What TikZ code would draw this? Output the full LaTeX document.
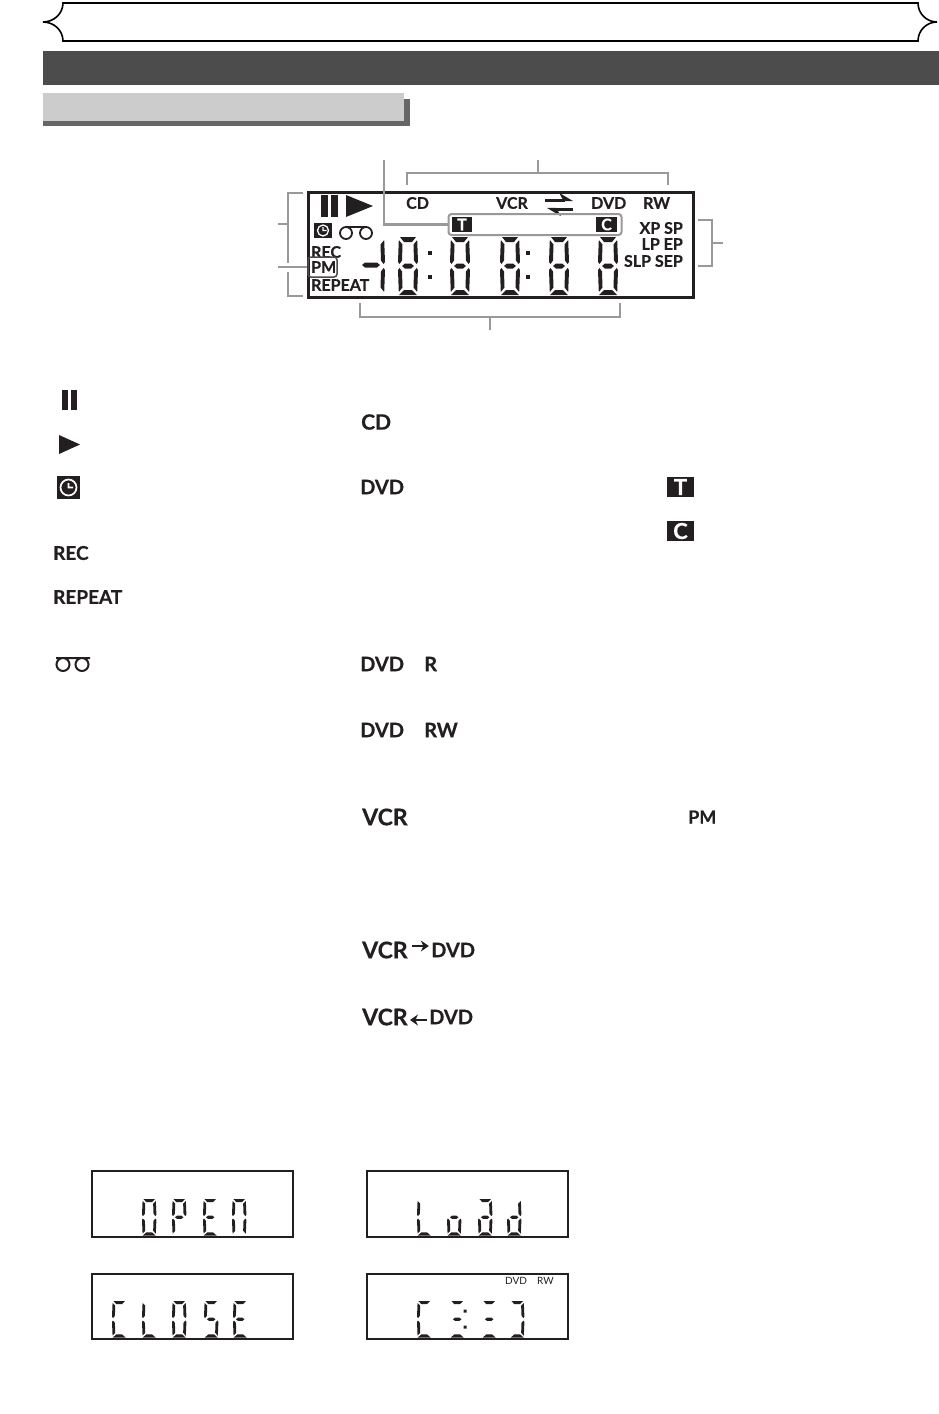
\documentclass[tikz,border=0pt]{standalone}
\usepackage{fontspec}
\setmainfont{Lato}[BoldFeatures={FakeBold=0.5}]
\usetikzlibrary{arrows.meta,positioning}
\definecolor{ink}{RGB}{35,31,32}
\definecolor{leader}{RGB}{153,153,153}
\tikzset{
  sega/.pic={\fill (2,0)--(18,0)--(14,5)--(6,5)--cycle;},
  segb/.pic={\fill (19.2,3)--(15.5,7.5)--(16,23.5)--(18.5,27)--(20,25)--cycle;},
  segc/.pic={\fill (20,33)--(18.5,31)--(16,34.5)--(15.5,50.5)--(19.2,55)--cycle;},
  segd/.pic={\fill (1,58)--(19,58)--(14,53)--(6,53)--cycle;},
  sege/.pic={\fill (0,33)--(1.5,31)--(4,34.5)--(4.5,50.5)--(0.8,55)--cycle;},
  segf/.pic={\fill (0.8,3)--(4.5,7.5)--(4,23.5)--(1.5,27)--(0,25)--cycle;},
  segg/.pic={\fill (4,29)--(7,26.5)--(13,26.5)--(16,29)--(13,31.5)--(7,31.5)--cycle;},
}
\newcommand{\lcddigit}[4]{%
  \begin{scope}[shift={(#2,#3)},scale=#1]
    \foreach \s in {#4} {\pic[ink,transform shape] at (0,0) {seg\s};}
  \end{scope}}
\newcommand{\smalldigit}[3]{%
  \begin{scope}[shift={(#1,#2)},xscale=0.72,yscale=0.63]
    \foreach \s in {#3} {\pic[ink,transform shape] at (0,0) {seg\s};}
  \end{scope}}

\begin{document}
\begin{tikzpicture}[
    x=1pt, y=-1pt,
    label/.style={font=\bfseries\fontsize{#1}{#1}\selectfont, text=ink, inner sep=0pt, anchor=west},
    label/.default=20,
    lcdbox/.style={draw=ink, line width=#1, fill=white, inner sep=0pt},
    lcdbox/.default=2pt,
    bracket/.style={draw=leader, line width=2.4pt},
    chip/.style={fill=ink, text=white, inner sep=0pt, font=\bfseries\fontsize{16}{16}\selectfont},
    bar/.style={fill=ink, inner sep=0pt},
    swing/.style={-{Stealth[length=8pt,width=11pt]}, line width=2.8pt, ink},
    lcdswing/.style={-{Stealth[harpoon,length=12pt,width=14pt]}, line width=3pt, ink},
  ]
  \useasboundingbox (0,0) rectangle (939,1414);

  % Title band
  \draw[line width=1.6pt, fill=white] (63,3) to[out=270,in=0] (43,22) to[out=0,in=90] (63,41)
    -- (918,41) to[out=90,in=180] (937,22) to[out=180,in=270] (918,3) -- cycle;
  \node[fill=black!70, inner sep=0pt, minimum width=896pt, minimum height=34pt] (band) at (491,68) {};
  \node[fill=black!60, inner sep=0pt, minimum width=367pt, minimum height=27pt] (shadow) at (226.5,112.5) {};
  \node[fill=black!20, inner sep=0pt, minimum width=361pt, minimum height=28pt] (heading) at (223.5,107) {};

  % Display
  \node[lcdbox=3pt, minimum width=385pt, minimum height=105pt] (display) at (500.5,244.5) {};
  \node[bar, minimum width=7pt, minimum height=22pt] (pausea) at (324.5,206) {};
  \node[bar, minimum width=7pt, minimum height=22pt] (pauseb) at (334.5,206) {};
  \fill[ink] (346,195) -- (373,206) -- (346,217) -- cycle;
  \node[bar, minimum width=18pt, minimum height=15pt] (clockchip) at (323,230.5) {};
  \draw[white, line width=1.3pt] (323,230.5) circle (5.5) (323,227) -- (323,230.5) -- (326.5,230.5);
  \draw[ink, line width=1.8pt] (346,233) circle (6) (366,233) circle (6) (346,227) -- (366,227);
  \node[label=16] (rec) at (311,252) {REC};
  \node[label=16] (pm) at (311,267) {PM};
  \node[label=16] (repeat) at (311,285) {REPEAT};
  \node[label=16] (cd) at (406,203) {CD};
  \node[label=16] (vcr) at (496,203) {VCR};
  \node[label=16] (dvd) at (591,203) {DVD};
  \node[label=16] (rw) at (643,203) {RW};
  \draw[lcdswing] (545,200) -- (573,200);
  \draw[lcdswing] (573,209) -- (547,209);
  \node[label=16, anchor=east] (xpsp) at (683,228) {XP SP};
  \node[label=16, anchor=east] (lpep) at (683,244) {LP EP};
  \node[label=16, anchor=east] (slpsep) at (683,261) {SLP SEP};
  \node[chip, minimum width=20pt, minimum height=15pt] (tchip) at (462,224.5) {T};
  \node[chip, minimum width=21pt, minimum height=15pt] (cchip) at (606.5,224.5) {C};
  \node[draw=leader, line width=2pt, rounded corners=3pt, minimum width=173pt, minimum height=21pt] (tcbox) at (535,224.5) {};
  \node[draw=black!70, line width=1.5pt, rounded corners=3pt, minimum width=29pt, minimum height=20pt] (pmbox) at (322.5,267) {};

  % Time digits
  \fill[ink] (362,265) -- (365,262.5) -- (377,262.5) -- (380,265) -- (377,267.5) -- (365,267.5) -- cycle;
  \lcddigit{1}{365}{237}{b,c}
  \lcddigit{1}{398}{237}{a,b,c,d,e,f,g}
  \lcddigit{1}{450}{237}{a,b,c,d,e,f,g}
  \lcddigit{1}{500}{237}{a,b,c,d,e,f,g}
  \lcddigit{1}{549}{237}{a,b,c,d,e,f,g}
  \lcddigit{1}{598}{237}{a,b,c,d,e,f,g}
  \foreach \dotx/\doty in {430/253,430/277,528/253,528/277}
    \fill[ink] (\dotx-2,\doty-2) rectangle (\dotx+2,\doty+2);

  % Brackets and leaders
  \coordinate (cutop) at (538,160);
  \coordinate (tcstem) at (384,160);
  \coordinate (lefta) at (278,224);
  \coordinate (leftb) at (278,267);
  \coordinate (rightstem) at (723,243);
  \coordinate (botstem) at (490,330);
  \draw[bracket] (407,185) -- (407,173) -- (668,173) -- (668,185);
  \draw[bracket] (cutop) -- (538,173);
  \draw[bracket] (tcstem) |- (tcbox.west);
  \draw[bracket] (303,193) -- (288,193) -- (288,263);
  \draw[bracket] (288,272) -- (288,296) -- (303,296);
  \draw[bracket] (lefta) -- (288,224);
  \draw[bracket] (leftb) -- (pmbox.west);
  \draw[bracket] (698,220) -- (712,220) -- (712,266) -- (698,266);
  \draw[bracket] (rightstem) -- (712,243);
  \draw[bracket] (360,303) -- (360,317) -- (620,317) -- (620,303);
  \draw[bracket] (botstem) -- (490,317);

  % Key, left column
  \node[bar, minimum width=6pt, minimum height=20pt] (keypausea) at (65,400) {};
  \node[bar, minimum width=6pt, minimum height=20pt] (keypauseb) at (74,400) {};
  \fill[ink] (59,435) -- (80,444.5) -- (59,454) -- cycle;
  \node[bar, minimum width=23pt, minimum height=23pt] (keyclock) at (68.5,487.5) {};
  \draw[white, line width=1.7pt] (68.5,487.5) circle (8) (68.5,483) -- (68.5,487.5) -- (73,487.5);
  \node[label=19] (keyrec) at (53,553) {REC};
  \node[label=19] (keyrepeat) at (53,597) {REPEAT};
  \draw[ink, line width=2pt] (63,664.5) circle (6.5) (82,664.5) circle (6.5) (56,658) -- (90,658);

  % Key, middle column
  \node[label=21] (keycd) at (361,422) {CD};
  \node[label] (keydvd) at (360,487) {DVD};
  \node[label] (keydvdr) at (360,664) {DVD};
  \node[label] (keyr) at (424,664) {R};
  \node[label] (keydvdrw) at (360,730) {DVD};
  \node[label] (keyrw) at (424,730) {RW};
  \node[label=23] (keyvcr) at (362,817) {VCR};
  \node[label=23] (copyvcra) at (362,950) {VCR};
  \node[label=20] (copydvda) at (431,950) {DVD};
  \draw[swing] (copyvcra.east) ++(4,-4) -- ++(17,0);
  \node[label=23] (copyvcrb) at (362,1017) {VCR};
  \node[label=20] (copydvdb) at (429,1017) {DVD};
  \draw[swing] (copydvdb.west) ++(-2,3) -- ++(-17,0);

  % Key, right column
  \node[chip, minimum width=27pt, minimum height=20pt, font=\bfseries\fontsize{22}{22}\selectfont] (keyt) at (680.5,487) {T};
  \node[chip, minimum width=27pt, minimum height=20pt, font=\bfseries\fontsize{22}{22}\selectfont] (keyc) at (680.5,531) {C};
  \node[label=18] (keypm) at (688,817) {PM};

  % Messages
  \node[lcdbox, minimum width=201pt, minimum height=66pt] (openbox) at (192.5,1204) {};
  \node[lcdbox, minimum width=201pt, minimum height=66pt] (loadbox) at (467.5,1204) {};
  \node[lcdbox, minimum width=201pt, minimum height=65pt] (closebox) at (192.5,1306.5) {};
  \node[lcdbox, minimum width=201pt, minimum height=65pt] (formatbox) at (467.5,1306.5) {};
  \smalldigit{142}{1199}{a,b,c,d,e,f}
  \smalldigit{172}{1199}{a,b,e,f,g}
  \smalldigit{203}{1199}{a,d,e,f,g}
  \smalldigit{232}{1199}{a,b,c,e,f}
  \smalldigit{417}{1199}{d,e,f}
  \smalldigit{447}{1199}{c,d,e,g}
  \smalldigit{478}{1199}{a,b,c,d,e,g}
  \smalldigit{507}{1199}{b,c,d,e,g}
  \smalldigit{112}{1301}{a,d,e,f}
  \smalldigit{142}{1301}{d,e,f}
  \smalldigit{172}{1301}{a,b,c,d,e,f}
  \smalldigit{204}{1301}{a,c,d,f,g}
  \smalldigit{233}{1301}{a,d,e,f,g}
  \smalldigit{417}{1301}{a,d,e,f}
  \smalldigit{450}{1301}{a,d,g}
  \smalldigit{482}{1301}{a,d,g}
  \smalldigit{510}{1301}{a,b,c,d}
  \fill[ink] (463.5,1309.5) rectangle (466.5,1312.5) (463.5,1325.5) rectangle (466.5,1328.5);
  \node[label=10, font=\fontsize{10}{10}\selectfont] (smalldvd) at (505,1281) {DVD};
  \node[label=10, font=\fontsize{10}{10}\selectfont] (smallrw) at (537,1281) {RW};
\end{tikzpicture}
\end{document}
